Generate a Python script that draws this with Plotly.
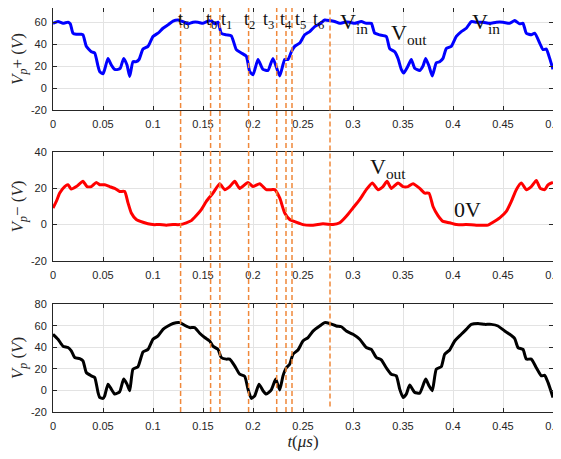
import plotly.graph_objects as go

# ---------------- data ----------------
t_vpp = [0, 0.005, 0.01, 0.015, 0.0173, 0.02, 0.0233, 0.0283, 0.03, 0.0333, 0.0383, 0.0417, 0.045, 0.0467,
         0.05, 0.0517, 0.055, 0.0583, 0.0617, 0.065, 0.0673, 0.0707, 0.074, 0.0767, 0.08, 0.0833, 0.086,
         0.09, 0.095, 0.1, 0.105, 0.11, 0.115, 0.12, 0.125, 0.13, 0.135, 0.14, 0.145, 0.15, 0.155, 0.1583,
         0.1617, 0.165, 0.1683, 0.1733, 0.1783, 0.1833, 0.1883, 0.1933, 0.1967, 0.2, 0.205, 0.21, 0.215,
         0.22, 0.2267, 0.2317, 0.235, 0.2383, 0.2417, 0.2467, 0.2517, 0.2567, 0.2617, 0.2667, 0.2717,
         0.2767, 0.2817, 0.2867, 0.2917, 0.2967, 0.3017, 0.3083, 0.3133, 0.3183, 0.3217, 0.3267, 0.3333,
         0.3367, 0.3417, 0.345, 0.3483, 0.3507, 0.355, 0.3583, 0.3617, 0.3667, 0.37, 0.3727, 0.376, 0.3793,
         0.3833, 0.3867, 0.39, 0.3933, 0.3983, 0.4033, 0.4083, 0.4133, 0.4183, 0.4233, 0.43, 0.4367, 0.4433,
         0.45, 0.4567, 0.4617, 0.4667, 0.47, 0.4733, 0.4783, 0.4817, 0.4867, 0.49, 0.4933, 0.4967, 0.5]
v_pplus = [59, 60.6, 59, 60, 58.5, 50, 49, 49, 48.5, 38, 33, 32, 20, 15,
           13, 17, 27, 21, 17, 17, 18, 27, 21, 10.6, 24, 24, 26,
           35.5, 38, 47, 50, 54.5, 57.6, 61, 62, 60.6, 58.5, 60, 60, 59, 61, 61.5,
           58.5, 60, 50, 48.5, 47.6, 35, 32, 29, 15, 12, 26, 17, 16,
           27, 11, 26, 26, 33, 38, 41, 48.5, 51.5, 56, 58.5, 62,
           61.5, 60.6, 59, 60, 60, 59, 60.6, 59, 59, 50, 48.5, 47,
           36, 33, 27, 17, 13.6, 20, 26, 18, 16, 20, 27, 20, 11,
           23, 24, 27, 36, 38, 47, 51.5, 54.5, 60.6, 60, 60, 59, 60,
           60, 59, 61.5, 58.5, 59, 50, 48.5, 50, 41, 35, 35.5, 27, 17]

t_vpm = [0, 0.0033, 0.0067, 0.0117, 0.015, 0.0183, 0.0233, 0.03, 0.034, 0.0383, 0.0433, 0.0467, 0.0517,
         0.0567, 0.0617, 0.0667, 0.0717, 0.075, 0.0783, 0.0833, 0.09, 0.095, 0.1, 0.1067, 0.1133, 0.12,
         0.1267, 0.1333, 0.1383, 0.1433, 0.1483, 0.1533, 0.16, 0.1667, 0.1717, 0.1767, 0.1817, 0.1867,
         0.195, 0.2, 0.2067, 0.2133, 0.2183, 0.2217, 0.2267, 0.2317, 0.2367, 0.2433, 0.25, 0.26, 0.27,
         0.28, 0.2867, 0.2933, 0.3, 0.3067, 0.3133, 0.3193, 0.325, 0.33, 0.334, 0.3383, 0.345, 0.35,
         0.355, 0.36, 0.3667, 0.3717, 0.376, 0.38, 0.385, 0.39, 0.3967, 0.4033, 0.4133, 0.4233, 0.435,
         0.44, 0.4467, 0.4533, 0.4583, 0.4633, 0.4683, 0.4733, 0.4783, 0.4833, 0.4873, 0.4917, 0.495, 0.5]
v_pminus = [9.2, 12.8, 17.4, 21, 22, 19.6, 21, 23.9, 21, 21, 23.3, 22, 22,
            21, 20, 18.3, 18.3, 12, 6.4, 2.8, 1.3, 0.5, 0, 0, -0.3, 0,
            0, 1, 2.2, 5, 8.3, 12.8, 17.4, 22.6, 19.3, 21, 23.9, 20,
            23.3, 21, 22.6, 19.3, 19.3, 19.3, 14.7, 6.4, 2.8, 1.3, 0, -0.3, 0.5,
            0, 1, 4.6, 9.2, 13.8, 19.3, 23, 19.3, 21, 23.9, 20, 23, 21,
            21, 22.6, 20, 17.4, 17.4, 10, 5, 1.8, 1, 0, 0, -0.3, -0.3,
            1.3, 3.7, 7.3, 12.8, 19.3, 23, 19.3, 21, 24.4, 20, 19.3, 22, 23.3]

t_vp = [0, 0.005, 0.01, 0.015, 0.0183, 0.0217, 0.0267, 0.03, 0.0333, 0.0383, 0.0417, 0.045, 0.0467, 0.05,
        0.0517, 0.055, 0.0583, 0.0617, 0.0667, 0.0707, 0.074, 0.0767, 0.08, 0.085, 0.09, 0.095, 0.1, 0.105,
        0.11, 0.115, 0.12, 0.1267, 0.1317, 0.1367, 0.1417, 0.1467, 0.1517, 0.1567, 0.16, 0.165, 0.1683,
        0.1733, 0.1767, 0.1817, 0.1867, 0.1917, 0.195, 0.1983, 0.2017, 0.206, 0.21, 0.2133, 0.2183, 0.2227,
        0.2267, 0.23, 0.2333, 0.2367, 0.24, 0.245, 0.25, 0.255, 0.26, 0.2667, 0.2717, 0.2767, 0.2833,
        0.2883, 0.2933, 0.3, 0.3067, 0.3133, 0.3183, 0.3233, 0.3283, 0.3333, 0.3383, 0.3433, 0.3467, 0.35,
        0.3533, 0.3567, 0.3617, 0.3667, 0.3727, 0.376, 0.3793, 0.3833, 0.3883, 0.3917, 0.3967, 0.4017,
        0.4083, 0.4133, 0.4183, 0.425, 0.4317, 0.4383, 0.445, 0.4517, 0.4567, 0.4617, 0.465, 0.47, 0.4733,
        0.4783, 0.4833, 0.4883, 0.4917, 0.495, 0.5]
v_p = [52, 47.4, 41, 39.7, 36.6, 30.5, 29.5, 27.4, 16.6, 13.5, 12, -1.8, -6.5, -7.4,
       -5, 5.8, 1.2, -3.4, -1.2, 10.5, 5.8, -0.3, 19.7, 22, 35.7, 38, 47.4, 50.5,
       56.6, 59.7, 62, 62.8, 60.3, 58.2, 58.2, 53, 49, 45.8, 41, 38, 30.5,
       29, 29, 22.8, 15, 13, 1.2, -7.4, -5, 5.8, -0.3, -3.4, 0.6, 10.5,
       0.5, 13.5, 21, 24.3, 33.5, 37.5, 45.8, 49, 55, 59.7, 62.8, 62, 59.7,
       59, 55, 52, 47.4, 39.7, 38, 30.5, 28.3, 21, 15, 13.5, 1.2, -6.5,
       -3.4, 5, -1.8, -2.5, 10.5, 4.3, -0.3, 19.7, 22, 33.5, 37.5, 45.8,
       52, 56.6, 61.2, 62, 61.2, 61.2, 59.7, 55, 52, 48, 39.7, 38, 29,
       29, 21, 13.5, 14, 7.4, -6.5]

# switching instants (dashed markers) and their labels
t_marks = [0.1276, 0.1576, 0.1669, 0.1956, 0.2237, 0.2330, 0.2390, 0.2770]
mark_labels = ["t<sub>6</sub>", "t<sub>0</sub>", "t<sub>1</sub>", "t<sub>2</sub>",
               "t<sub>3</sub>", "t<sub>4</sub>", "t<sub>5</sub>", "t<sub>6</sub>"]
label_x = [0.1309, 0.1589, 0.1739, 0.1969, 0.2150, 0.2327, 0.2470, 0.2653]

x_ticks = [0, 0.05, 0.1, 0.15, 0.2, 0.25, 0.3, 0.35, 0.4, 0.45, 0.5]
x_ticklabels = ["0", "0.05", "0.1", "0.15", "0.2", "0.25", "0.3", "0.35", "0.4", "0.45", "0.5"]

# ---------------- figure ----------------
# the page body adds an 8px offset, so the figure is drawn smaller than the window
W, H = 553, 443
ml, mr, mt, mb = 45.3, 8.3, 0, 38.7
ph = H - mt - mb

def dom(top_px, bot_px):
    return [(ph - bot_px) / ph, min(1.0, (ph - top_px) / ph)]

d1 = dom(0.0, 102.0)
d2 = dom(144.3, 253.0)
d3 = dom(296.3, 404.3)

fig = go.Figure()
fig.add_trace(go.Scatter(x=t_vpp, y=v_pplus, mode="lines", line=dict(color="#0000FF", width=3, shape="spline", smoothing=0.5),
                         xaxis="x", yaxis="y", showlegend=False))
fig.add_trace(go.Scatter(x=t_vpm, y=v_pminus, mode="lines", line=dict(color="#FF0000", width=3, shape="spline", smoothing=0.5),
                         xaxis="x2", yaxis="y2", showlegend=False))
fig.add_trace(go.Scatter(x=t_vp, y=v_p, mode="lines", line=dict(color="#000000", width=3, shape="spline", smoothing=0.5),
                         xaxis="x3", yaxis="y3", showlegend=False))

tickfont = dict(family="Liberation Sans, Arial, sans-serif", size=11, color="#262626")
titlefont = dict(family="Liberation Serif, Times New Roman, serif", size=17, color="#262626")

def xax(domain_anchor, title=None):
    d = dict(domain=[0, 1], anchor=domain_anchor, range=[0, 0.5], tickvals=x_ticks, ticktext=x_ticklabels,
             showgrid=True, gridcolor="#E3E3E3", gridwidth=1, zeroline=False, automargin=False,
             showline=True, linecolor="#262626", linewidth=1, mirror="ticks",
             ticks="inside", ticklen=4, tickcolor="#262626", tickfont=tickfont, ticklabelstandoff=4,
             ticklabeloverflow="allow")
    if title:
        d["title"] = dict(text=title, font=titlefont, standoff=2)
    return d

def yax(domain, anchor, rng, tvals, title):
    return dict(domain=domain, anchor=anchor, range=rng, tickvals=tvals, ticktext=[str(v) for v in tvals],
                showgrid=True, gridcolor="#E3E3E3", gridwidth=1, zeroline=False, automargin=False,
                showline=True, linecolor="#262626", linewidth=1, mirror="ticks",
                ticks="inside", ticklen=4, tickcolor="#262626", tickfont=tickfont, ticklabelstandoff=3,
                title=dict(text=title, font=titlefont, standoff=6))

fig.update_layout(
    width=W, height=H, margin=dict(l=ml, r=mr, t=mt, b=mb, pad=0, autoexpand=False),
    paper_bgcolor="white", plot_bgcolor="white",
    xaxis=xax("y"), xaxis2=xax("y2"), xaxis3=xax("y3", "<i>t</i>(<i>μs</i>)"),
    yaxis=yax(d1, "x", [-20, 72.98], [-20, 0, 20, 40, 60, 80], "<i>V<sub>p</sub></i>+ (<i>V</i>)"),
    yaxis2=yax(d2, "x2", [-20, 40], [-20, 0, 20, 40], "<i>V<sub>p</sub></i>− (<i>V</i>)"),
    yaxis3=yax(d3, "x3", [-20, 80], [-20, 0, 20, 40, 60, 80], "<i>V<sub>p</sub></i> (<i>V</i>)"),
)

# dashed marker lines spanning all panels
line_bottoms = [0, 0, 0, 0, 0, 0, 0, 0.0139]
for tm, yb in zip(t_marks, line_bottoms):
    fig.add_shape(type="line", xref="x", yref="paper", x0=tm, x1=tm, y0=yb, y1=1.0,
                  line=dict(color="#F0883A", width=1.5, dash="5px,3px"), layer="above")

labfont = dict(family="Liberation Serif, Times New Roman, serif", size=18, color="#111111")
for lx, lt in zip(label_x, mark_labels):
    fig.add_annotation(x=lx, y=1.0, xref="x", yref="paper", text=lt, showarrow=False, font=labfont,
                       xanchor="center", yanchor="top", borderpad=0)

bigfont = dict(family="Liberation Serif, Times New Roman, serif", size=22, color="#111111")
fig.add_annotation(x=0.3011, y=1.0, xref="x", yref="paper", text="V<sub>in</sub>", showarrow=False, font=bigfont,
                   yanchor="top", borderpad=0)
fig.add_annotation(x=0.4332, y=1.0, xref="x", yref="paper", text="V<sub>in</sub>", showarrow=False, font=bigfont,
                   yanchor="top", borderpad=0)
fig.add_annotation(x=0.3561, y=49.5, xref="x", yref="y", text="V<sub>out</sub>", showarrow=False, font=bigfont)
fig.add_annotation(x=0.3351, y=31.5, xref="x2", yref="y2", text="V<sub>out</sub>", showarrow=False, font=bigfont)
fig.add_annotation(x=0.4142, y=8.2, xref="x2", yref="y2", text="0V", showarrow=False, font=bigfont)

fig.write_html("out.html")
